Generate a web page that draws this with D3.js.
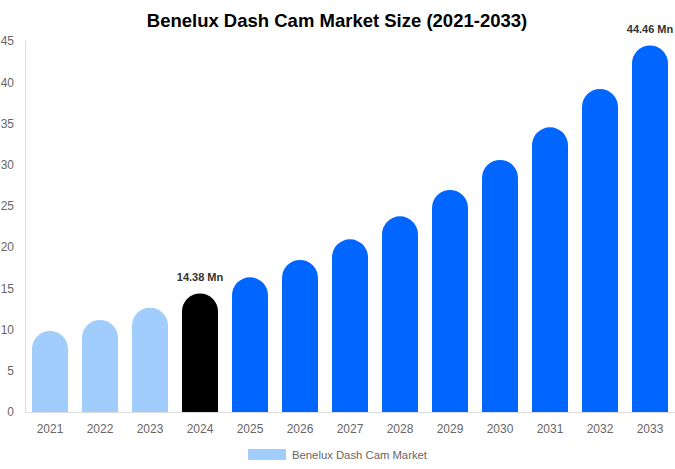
<!DOCTYPE html>
<html>
<head>
<meta charset="utf-8">
<script src="https://cdn.jsdelivr.net/npm/d3@7"></script>
<style>
  body { margin: 0; background: #fff; }
  svg { display: block; font-family: "Liberation Sans", Arial, sans-serif; }
  .axis text { fill: #666; font-size: 12px; }
  .axis path, .axis line { stroke: #ddd; }
</style>
</head>
<body>
<svg id="chart" width="675" height="469"></svg>
<script>
// data

let years = ["2021", "2022", "2023", "2024", "2025", "2026", "2027",
             "2028", "2029", "2030", "2031", "2032", "2033"];
let values = [9.83, 11.16, 12.65, 14.38, 16.34, 18.44, 20.95,
              23.73, 26.93, 30.57, 34.53, 39.18, 44.46];
let yTicks = [0, 5, 10, 15, 20, 25, 30, 35, 40, 45];
let labelled = {"2024": "14.38 Mn", "2033": "44.46 Mn"};
let seriesName = "Benelux Dash Cam Market";

// layout

let margin = {top: 41, right: 0, bottom: 57, left: 25};
let width = 675, height = 469;
let innerW = width - margin.left - margin.right;
let innerH = height - margin.top - margin.bottom;

let colorFor = y => +y < 2024 ? "#a0cdfc" : (+y === 2024 ? "#000000" : "#0066ff");

let svg = d3.select("#chart");

svg.append("text")
    .attr("x", 337)
    .attr("y", 27)
    .attr("text-anchor", "middle")
    .style("font-size", "18.5px")
    .style("font-weight", "bold")
    .attr("fill", "#000")
    .text("Benelux Dash Cam Market Size (2021-2033)");

let g = svg.append("g")
    .attr("transform", `translate(${margin.left},${margin.top})`);

let x = d3.scaleBand()
    .domain(years)
    .range([0, innerW])
    .paddingInner(0.28)
    .paddingOuter(0.14);

let y = d3.scaleLinear()
    .domain([0, 45])
    .range([innerH, 0]);

// axes
g.append("g")
    .attr("class", "axis")
    .attr("transform", `translate(0,${innerH})`)
    .call(d3.axisBottom(x).tickSize(0).tickPadding(12))
    .call(a => a.select(".domain").attr("d", `M0,0.5H${innerW}`));

g.append("g")
    .attr("class", "axis")
    .call(d3.axisLeft(y).tickValues(yTicks).tickSize(0).tickPadding(11))
    .call(a => a.select(".domain").attr("d", `M0.5,${innerH}V0`));

// bars with rounded tops
function roundTop(x0, y0, w, h) {
  let r = Math.min(w / 2, h);
  return `M${x0},${y0 + h}V${y0 + r}` +
         `A${r},${r} 0 0 1 ${x0 + w},${y0 + r}` +
         `V${y0 + h}Z`;
}

g.selectAll(".bar")
    .data(years)
    .join("path")
    .attr("class", "bar")
    .attr("fill", d => colorFor(d))
    .attr("d", (d, i) => roundTop(x(d), y(values[i]), x.bandwidth(), innerH - y(values[i])));

// value labels
g.selectAll(".vlabel")
    .data(years.filter(d => labelled[d]))
    .join("text")
    .attr("class", "vlabel")
    .attr("x", d => x(d) + x.bandwidth() / 2)
    .attr("y", d => y(values[years.indexOf(d)]) - 12)
    .attr("text-anchor", "middle")
    .style("font-size", "11px")
    .style("font-weight", "bold")
    .attr("fill", "#333")
    .text(d => labelled[d]);

// legend
let legend = svg.append("g")
    .attr("transform", "translate(248,449)");

legend.append("rect")
    .attr("width", 38)
    .attr("height", 11)
    .attr("fill", "#a0cdfc");

legend.append("text")
    .attr("x", 44)
    .attr("y", 9.5)
    .style("font-size", "11.3px")
    .attr("fill", "#666")
    .text(seriesName);
</script>
</body>
</html>
